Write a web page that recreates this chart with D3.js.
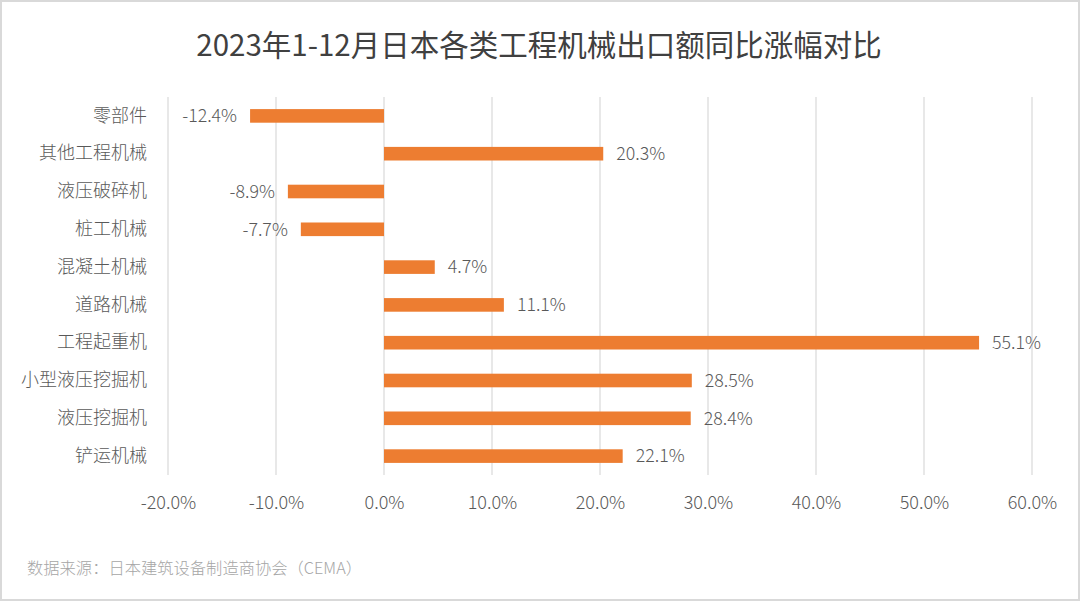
<!DOCTYPE html>
<html>
<head>
<meta charset="utf-8">
<script src="https://cdn.jsdelivr.net/npm/d3@7"></script>
<style>
  html, body { margin: 0; padding: 0; background: #fff; }
  svg { display: block; font-family: "Noto Sans CJK SC", "Noto Sans", sans-serif; }
</style>
</head>
<body>
<svg id="chart" width="1080" height="601"></svg>
<script>
const title = "2023年1-12月日本各类工程机械出口额同比涨幅对比";
const source = "数据来源：日本建筑设备制造商协会（CEMA）";
const categories = ["零部件", "其他工程机械", "液压破碎机", "桩工机械", "混凝土机械", "道路机械", "工程起重机", "小型液压挖掘机", "液压挖掘机", "铲运机械"];
const values = [-12.4, 20.3, -8.9, -7.7, 4.7, 11.1, 55.1, 28.5, 28.4, 22.1];
const xTicks = [-20, -10, 0, 10, 20, 30, 40, 50, 60];

const svg = d3.select("#chart");
const W = 1080, H = 601;

svg.append("rect").attr("x", 1).attr("y", 1).attr("width", W - 2).attr("height", H - 2)
  .attr("fill", "#fff").attr("stroke", "#d9d9d9").attr("stroke-width", 2);

const x = d3.scaleLinear().domain([-20, 60]).range([168, 1032]);
const y = d3.scaleBand().domain(categories).range([97, 475]).paddingInner(0.64).paddingOuter(0.32);

// gridlines
svg.append("g").selectAll("line").data(xTicks).join("line")
  .attr("x1", d => x(d)).attr("x2", d => x(d))
  .attr("y1", 97).attr("y2", 475)
  .attr("stroke", "#d9d9d9").attr("stroke-width", 1.2);

// bars
svg.append("g").selectAll("rect").data(values).join("rect")
  .attr("x", d => x(Math.min(0, d)))
  .attr("width", d => Math.abs(x(d) - x(0)))
  .attr("y", (d, i) => y(categories[i]))
  .attr("height", y.bandwidth())
  .attr("fill", "#ED7D31");

// value labels
svg.append("g").selectAll("text").data(values).join("text")
  .attr("x", d => d < 0 ? x(d) - 13 : x(d) + 13)
  .attr("y", (d, i) => y(categories[i]) + y.bandwidth() / 2)
  .attr("dy", "0.35em")
  .attr("text-anchor", d => d < 0 ? "end" : "start")
  .attr("font-size", 17.8).attr("font-weight", 300)
  .attr("fill", "#595959")
  .text(d => d.toFixed(1) + "%");

// category labels
const yAxis = d3.axisLeft(y).tickSize(0).tickPadding(0);
const gy = svg.append("g").attr("transform", "translate(147,0)").call(yAxis);
gy.select(".domain").remove();
gy.selectAll("text").attr("font-size", 18).attr("font-weight", 300).attr("fill", "#595959")
  .attr("font-family", "'Noto Sans CJK SC', sans-serif");

// x axis labels
const xAxis = d3.axisBottom(x).tickValues(xTicks).tickSize(0).tickPadding(0)
  .tickFormat(d => d.toFixed(1) + "%");
const gx = svg.append("g").attr("transform", "translate(0,496)").call(xAxis);
gx.select(".domain").remove();
gx.selectAll("text").attr("font-size", 18).attr("font-weight", 300).attr("fill", "#595959")
  .attr("font-family", "'Noto Sans CJK SC', sans-serif");

// title
svg.append("text").attr("x", 539).attr("y", 46).attr("dy", "0.35em")
  .attr("text-anchor", "middle").attr("font-size", 29.5).attr("fill", "#404040")
  .text(title);

// source
svg.append("text").attr("x", 27).attr("y", 568).attr("dy", "0.35em")
  .attr("font-size", 16.3).attr("font-weight", 300).attr("fill", "#a6a6a6")
  .text(source);
</script>
</body>
</html>
